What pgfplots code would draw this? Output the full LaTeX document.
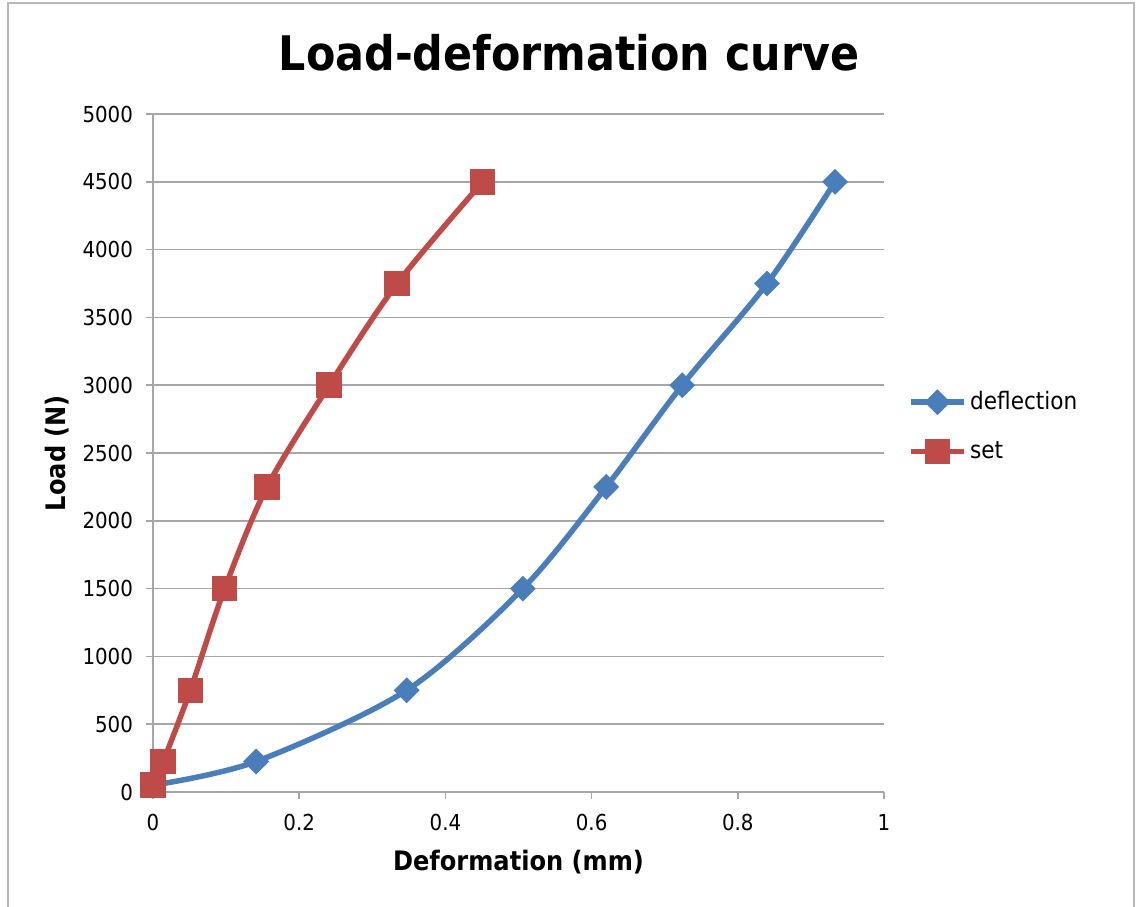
\documentclass[border=0pt]{standalone}
\usepackage{fontspec}
\setmainfont{DejaVu Sans Condensed}
\usepackage{pgfplots}
\pgfplotsset{compat=1.18}
\definecolor{exblue}{HTML}{4A7EBB}
\definecolor{exred}{HTML}{BE4B48}
\definecolor{gridgray}{HTML}{A6A6A6}
\begin{document}
\begin{tikzpicture}
\useasboundingbox (-76.5pt,-57pt) rectangle (492.5pt,396pt);
\draw[gridgray!80, line width=0.8pt] (-72.5pt,-70pt) -- (-72.5pt,394.5pt) -- (490.5pt,394.5pt) -- (490.5pt,-70pt);
\begin{axis}[
  at={(0pt,0pt)}, anchor=origin,
  scale only axis, width=365.5pt, height=339pt,
  xmin=0, xmax=1, ymin=0, ymax=5000,
  xtick={0,0.2,0.4,0.6,0.8,1},
  xticklabels={0,0.2,0.4,0.6,0.8,1},
  ytick={0,500,...,5000},
  /pgf/number format/1000 sep={},
  /pgf/number format/assume math mode=true,
  scaled y ticks=false,
  axis x line*=bottom, axis y line*=left,
  axis line style={gridgray, line width=0.8pt, -},
  ymajorgrids, grid style={gridgray, line width=0.8pt},
  tick style={gridgray, line width=0.8pt},
  tick align=outside, major tick length=3.5pt,
  ticklabel style={font=\fontsize{11}{13}\selectfont},
  xticklabel style={yshift=-4pt},
  yticklabel style={xshift=-3pt},
  xlabel={Deformation (mm)},
  ylabel={Load (N)},
  every axis x label/.style={at={(182.75pt,-35pt)}, anchor=center, font=\fontsize{13.4}{16}\selectfont\bfseries},
  every axis y label/.style={at={(-48pt,169.5pt)}, anchor=center, rotate=90, font=\fontsize{13.4}{16}\selectfont\bfseries},
  legend style={at={(1.025,0.603)}, anchor=north west, draw=none, fill=none,
    font=\fontsize{12}{14}\selectfont, row sep=10.5pt, legend cell align=left,
    nodes={inner xsep=2pt}},
  legend image code/.code={\draw[mark repeat=2,mark phase=2] plot coordinates {(0pt,0pt) (13pt,0pt) (26pt,0pt)};},
  clip=false,
]
\addplot[exblue, line width=2.75pt, smooth, mark=square*, mark size=3.2pt, mark options={solid, rotate=45}] coordinates {
(0,50) (0.141,225) (0.347,750) (0.506,1500) (0.620,2250) (0.724,3000) (0.840,3750) (0.933,4500)};
\addlegendentry{deflection}
\addplot[exred, line width=2.75pt, smooth, mark=square*, mark size=5pt, mark options={solid}] coordinates {
(0,50) (0.014,225) (0.051,750) (0.098,1500) (0.156,2250) (0.241,3000) (0.334,3750) (0.451,4500)};
\addlegendentry{set}
\end{axis}
\node at (208pt,369.5pt) {\fontsize{23.8}{28}\selectfont\bfseries Load-deformation curve};
\end{tikzpicture}
\end{document}
